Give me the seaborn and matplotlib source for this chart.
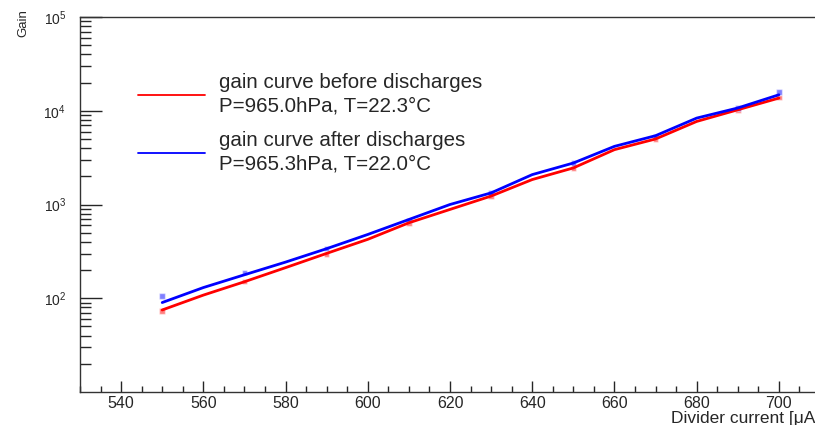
import numpy as np
import pandas as pd
import matplotlib
matplotlib.use("Agg")
import matplotlib.pyplot as plt
import matplotlib.ticker as mticker
import seaborn as sns

# gain curves (dense curve, every 10 uA)
current = [550, 560, 570, 580, 590, 600, 610, 620, 630, 640, 650, 660, 670, 680, 690, 700]
gain_before = [75, 108, 150, 212, 301, 425, 638, 886, 1230, 1845, 2455, 3846, 5000, 7690, 10240, 13650]
gain_after = [90, 130, 178, 243, 338, 479, 692, 1000, 1330, 2083, 2770, 4170, 5420, 8350, 10700, 14800]

# measured points (markers)
point_current = [550, 570, 590, 610, 630, 650, 670, 690, 700]
point_before = [73, 151, 294, 624, 1230, 2450, 5000, 10200, 13800]
point_after = [106, 188, 340, 676, 1330, 2770, 5340, 10700, 15850]

label_before = "gain curve before discharges\nP=965.0hPa, T=22.3°C"
label_after = "gain curve after discharges\nP=965.3hPa, T=22.0°C"

sns.set_style("ticks")
plt.rcParams["font.family"] = ["Liberation Sans", "DejaVu Sans"]
plt.rcParams["mathtext.default"] = "regular"

lines = pd.DataFrame({
    "current": current * 2,
    "gain": gain_before + gain_after,
    "curve": [label_before] * len(current) + [label_after] * len(current),
})
points = pd.DataFrame({
    "current": point_current * 2,
    "gain": point_before + point_after,
    "curve": [label_before] * len(point_current) + [label_after] * len(point_current),
})
palette = {label_before: "#ff0000", label_after: "#0000ff"}

fig = plt.figure(figsize=(8.15, 4.25), dpi=100)
ax = fig.add_axes([80 / 815, 33 / 425, 740 / 815, 375 / 425])

sns.lineplot(data=lines, x="current", y="gain", hue="curve", palette=palette,
             linewidth=2, ax=ax)
sns.scatterplot(data=points, x="current", y="gain", hue="curve", palette=palette,
                marker="s", s=16, linewidth=1, alpha=0.5, legend=False, ax=ax)

ax.set_yscale("log")
ax.set_xlim(530, 710)
ax.set_ylim(10, 1e5)

ax.xaxis.set_major_locator(mticker.MultipleLocator(20))
ax.xaxis.set_minor_locator(mticker.MultipleLocator(5))
ax.yaxis.set_major_locator(mticker.FixedLocator([1e2, 1e3, 1e4, 1e5]))
ax.yaxis.set_minor_locator(mticker.LogLocator(base=10, subs=np.arange(2, 10), numticks=20))
ax.yaxis.set_minor_formatter(mticker.NullFormatter())

ax.tick_params(axis="x", which="major", direction="in", length=8, width=1, labelsize=11.5, pad=3)
ax.tick_params(axis="x", which="minor", direction="in", length=4, width=1)
ax.tick_params(axis="y", which="major", direction="in", length=16, width=1, labelsize=10, pad=10)
ax.tick_params(axis="y", which="minor", direction="in", length=8, width=1)

for side in ["left", "bottom", "top"]:
    ax.spines[side].set_visible(True)
    ax.spines[side].set_color("#333333")
    ax.spines[side].set_linewidth(1)
ax.spines["right"].set_visible(False)

ax.set_xlabel("Divider current [μA]", fontsize=12.5, loc="right", labelpad=0)
ax.set_ylabel("Gain", fontsize=9.5, loc="top")
ax.yaxis.set_label_coords(-0.068, 1.02)

leg = ax.legend(loc="upper left", bbox_to_anchor=(119 / 815, 1 - 55 / 425),
                bbox_transform=fig.transFigure, frameon=False, fontsize=14.8,
                handlelength=3.3, handletextpad=0.65, labelspacing=0.75)
for t in leg.get_texts():
    t.set_linespacing(1.3)
for h in leg.legend_handles:
    h.set_linewidth(1.3)

fig.savefig("out.png", dpi=100)
